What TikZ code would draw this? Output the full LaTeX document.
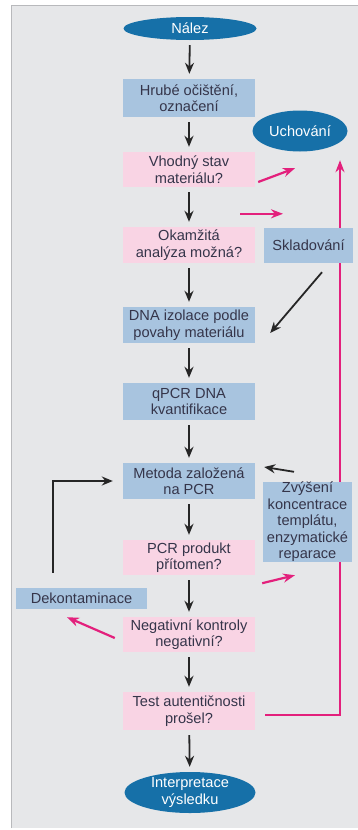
\documentclass[tikz,border=0pt]{standalone}
\usepackage{fontspec}
\setmainfont{Liberation Sans}
\usetikzlibrary{shapes.geometric,arrows.meta}
\definecolor{panel}{HTML}{E6E7E9}
\definecolor{panelline}{HTML}{B8B9BC}
\definecolor{boxblue}{HTML}{A8C4DF}
\definecolor{boxpink}{HTML}{F9D4E4}
\definecolor{ovalblue}{HTML}{1670A8}
\definecolor{magenta}{HTML}{E3207C}
\definecolor{txt}{HTML}{35354A}
\pgfdeclarelayer{back}
\pgfsetlayers{back,main}
\begin{document}
\begin{tikzpicture}[x=1pt,y=-1pt,
  every node/.style={font=\fontsize{14.6}{16.5}\selectfont, text=txt, align=center, inner sep=0pt},
  bluebox/.style={rectangle, fill=boxblue, minimum width=132pt, minimum height=36pt},
  pinkbox/.style={rectangle, fill=boxpink, minimum width=132pt, minimum height=36pt},
  oval/.style={ellipse, fill=ovalblue, text=white, inner sep=-4pt},
  flow/.style={draw=black!85, line width=1.8pt, -{Stealth[length=11pt,width=9pt]}},
  flowdown/.style={flow, shorten <=5pt, shorten >=5pt},
  alt/.style={draw=magenta, line width=2.2pt, -{Stealth[length=12pt,width=9pt]}}
]
\useasboundingbox (0,0) rectangle (358,830);

% main column
\node[oval, minimum width=133pt, minimum height=23pt] (nalez) at (190,28.5) {Nález};
\node[bluebox, minimum height=38pt] (hrube) at (189,98) {Hrubé očištění,\\označení};
\node[oval, minimum width=95pt, minimum height=41pt] (uchovani) at (300,131) {Uchování};
\node[pinkbox, minimum height=35pt] (vhodny) at (189,169.5) {Vhodný stav\\materiálu?};
\node[pinkbox] (okamzita) at (189,245) {Okamžitá\\analýza možná?};
\node[bluebox, minimum width=89pt, minimum height=35pt] (sklad) at (308.5,245.5) {Skladování};
\node[bluebox] (dna) at (189,325) {DNA izolace podle\\povahy materiálu};
\node[bluebox, minimum height=37pt] (qpcr) at (189,401.5) {qPCR DNA\\kvantifikace};
\node[bluebox] (metoda) at (189,481) {Metoda založená\\na PCR};
\node[bluebox, minimum width=89pt, minimum height=80pt] (zvyseni) at (307.5,522) {Zvýšení\\koncentrace\\templátu,\\enzymatické\\reparace};
\node[pinkbox, minimum height=35pt] (pcr) at (189,557.5) {PCR produkt\\přítomen?};
\node[bluebox, minimum width=131pt, minimum height=21pt] (dekont) at (81.5,598.5) {Dekontaminace};
\node[pinkbox, minimum height=35pt] (negativ) at (189,634.5) {Negativní kontroly\\negativní?};
\node[pinkbox, minimum height=38pt] (test) at (189,711) {Test autentičnosti\\prošel?};
\node[oval, minimum width=131pt, minimum height=41pt] (interp) at (190,792.5) {Interpretace\\výsledku};

% page, panel and the long return line, kept behind the boxes
\begin{pgfonlayer}{back}
  \fill[white] (0,0) rectangle (358,830);
  \fill[panel] (11,5) rectangle (358,828);
  \draw[panelline, line width=1pt] (11,828) -- (11,5) -- (358,5);
  \draw[alt] ([xshift=10pt,yshift=-4pt]test.east) -| ([xshift=40pt,yshift=-8.5pt]uchovani.south);
\end{pgfonlayer}

% downward flow
\draw[flowdown] (nalez) -- (hrube);
\draw[flowdown] (hrube) -- (vhodny);
\draw[flowdown] (vhodny) -- (okamzita);
\draw[flowdown] (okamzita) -- (dna);
\draw[flowdown] (dna) -- (qpcr);
\draw[flowdown] (qpcr) -- (metoda);
\draw[flowdown] (metoda) -- (pcr);
\draw[flowdown] (pcr) -- (negativ);
\draw[flowdown] (negativ) -- (test);
\draw[flowdown] (test) -- (interp);

% side branches
\draw[alt] ([xshift=3pt,yshift=-12.5pt]vhodny.east) -- ([xshift=-5pt,yshift=-16.5pt]uchovani.south);
\draw[alt] ([xshift=-15pt,yshift=13pt]okamzita.north east) -- ([xshift=-25.5pt,yshift=14pt]sklad.north);
\draw[flow] ([xshift=13.5pt,yshift=-9pt]sklad.south) -- ([xshift=15pt,yshift=-8pt]dna.east);
\draw[flow] ([xshift=-13.5pt,yshift=10pt]zvyseni.north) -- ([xshift=9pt,yshift=14pt]metoda.east);
\draw[alt] ([xshift=7pt,yshift=-8pt]pcr.south east) -- ([xshift=-12.5pt,yshift=-13pt]zvyseni.south);
\draw[alt] ([xshift=-8pt,yshift=-3.5pt]negativ.west) -- ([xshift=-14.5pt,yshift=-8pt]dekont.south);
\draw[flow] ([xshift=-28.5pt,yshift=15pt]dekont.north) |- ([xshift=-10pt]metoda.west);
\end{tikzpicture}
\end{document}
